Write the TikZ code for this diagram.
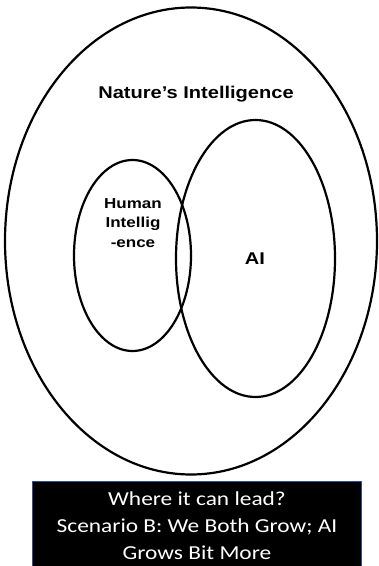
\documentclass[tikz,border=0pt]{standalone}
\usepackage{fontspec}
\setmainfont{Liberation Sans}[FakeStretch=1.18]
\newfontfamily\boxfont{Carlito}[FakeStretch=1.18]
\usetikzlibrary{shapes.geometric}
\definecolor{boxedge}{RGB}{47,82,143}

\begin{document}
\begin{tikzpicture}[x=1pt,y=1pt,line cap=round,line join=round,
    ring/.style={ellipse, draw, line width=2.2pt, inner sep=0pt},
    lbl/.style={align=center, font=\bfseries\fontsize{17}{20}\selectfont},
    banner/.style={rectangle, fill=black, draw=boxedge, line width=1.4pt, inner sep=0pt}]
    \useasboundingbox (0,0) rectangle (379,566);

    % the three sets
    \node [ring, minimum width=372pt, minimum height=467pt] (nature) at (191,325) {};
    \node [ring, minimum width=117pt, minimum height=191pt] (human) at (132.5,310.5) {};
    \node [ring, minimum width=159pt, minimum height=277pt] (ai) at (255.5,307.5) {};

    \node [lbl] (naturelbl) at (196,472) {Nature’s Intelligence};
    \node [lbl, font=\bfseries\fontsize{14.4}{19.5}\selectfont] (humanlbl) at (133,343) {Human\\Intellig\\-ence};
    \node [lbl] (ailbl) at (255,307) {AI};

    % caption box
    \node [banner, minimum width=329.4pt, minimum height=88.3pt] (banner) at (197,40.2) {};
    \node [align=center, text=white, font=\boxfont\fontsize{19.8}{27}\selectfont] (caption) at (banner.center) {Where it can lead?\\Scenario B: We Both Grow; AI\\Grows Bit More};
\end{tikzpicture}
\end{document}
